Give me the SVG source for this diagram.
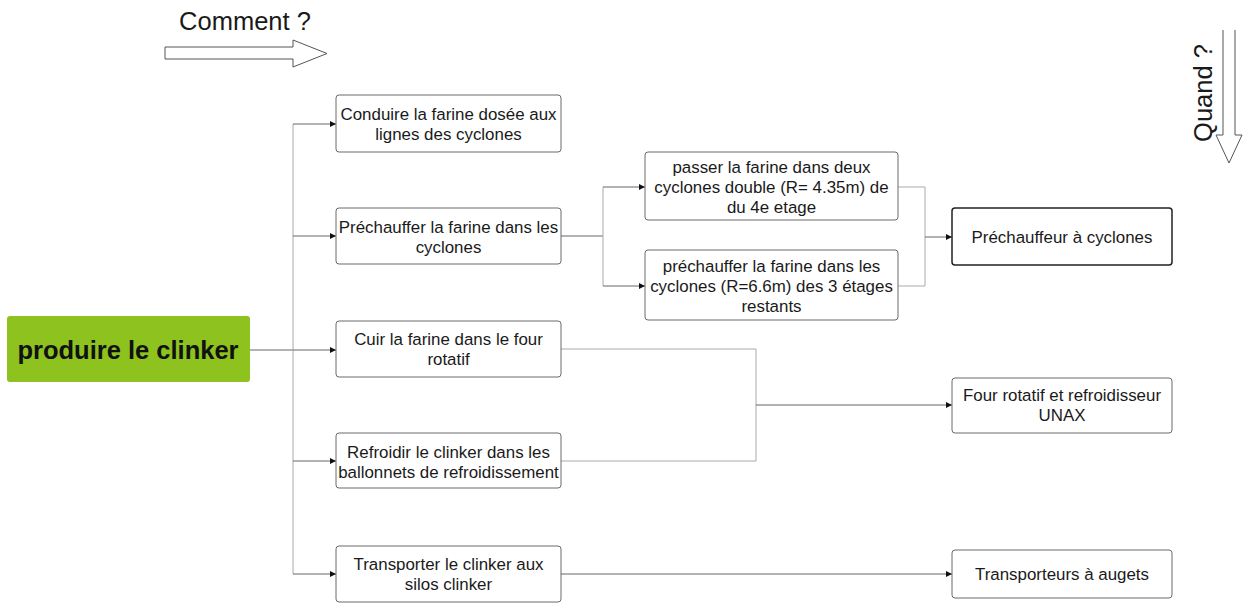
<svg xmlns="http://www.w3.org/2000/svg" width="1244" height="603" viewBox="0 0 1244 603">
  <style>
    .box { fill: #ffffff; stroke: #6b6b6b; stroke-width: 1; }
    .box-strong { fill: #ffffff; stroke: #222222; stroke-width: 1.5; }
    .t { font-family: "Liberation Sans", Arial, sans-serif; font-size: 16.9px; fill: #1a1a1a; text-anchor: middle; }
    .lbl { font-family: "Liberation Sans", Arial, sans-serif; font-size: 25.5px; fill: #1a1a1a; }
    .wire { fill: none; stroke: #aaaaaa; stroke-width: 1; }
    .wire-dark { fill: none; stroke: #666666; stroke-width: 1; }
    .hollow { fill: #ffffff; stroke: #555555; stroke-width: 1; }
  </style>
  <defs>
    <marker id="tip" viewBox="0 0 6 6" refX="6" refY="3" markerWidth="6" markerHeight="6" markerUnits="userSpaceOnUse" orient="auto">
      <path d="M0,0 L6,3 L0,6 z" fill="#111111"/>
    </marker>
  </defs>

  <rect width="1244" height="603" fill="#ffffff"/>

  <!-- direction hints -->
  <g id="hint-comment">
    <text class="lbl" x="245" y="30" text-anchor="middle">Comment ?</text>
    <path class="hollow" d="M165,47 L293,47 L293,40 L327,53.5 L293,67 L293,59 L165,59 Z"/>
  </g>
  <g id="hint-quand">
    <text class="lbl" transform="translate(1212,93) rotate(-90)" text-anchor="middle">Quand ?</text>
    <path class="hollow" d="M1223,30 L1223,135 L1216,135 L1229,163 L1242,135 L1235,135 L1235,30"/>
  </g>

  <!-- connectors -->
  <g id="connectors">
    <path class="wire-dark" d="M250,350 L293,350"/>
    <path class="wire" d="M293,124 L293,574"/>
    <path class="wire-dark" d="M293,124 L336,124" marker-end="url(#tip)"/>
    <path class="wire-dark" d="M293,236 L336,236" marker-end="url(#tip)"/>
    <path class="wire-dark" d="M293,350 L336,350" marker-end="url(#tip)"/>
    <path class="wire-dark" d="M293,461 L336,461" marker-end="url(#tip)"/>
    <path class="wire-dark" d="M293,574 L336,574" marker-end="url(#tip)"/>

    <path class="wire-dark" d="M561,236 L603,236"/>
    <path class="wire" d="M603,187 L603,286"/>
    <path class="wire-dark" d="M603,187 L645,187" marker-end="url(#tip)"/>
    <path class="wire-dark" d="M603,286 L645,286" marker-end="url(#tip)"/>

    <path class="wire" d="M898,187 L925,187 L925,286 L898,286"/>
    <path class="wire-dark" d="M925,237 L952,237" marker-end="url(#tip)"/>

    <path class="wire" d="M561,349 L756,349 L756,461 L561,461"/>
    <path class="wire-dark" d="M756,405 L952,405" marker-end="url(#tip)"/>

    <path class="wire-dark" d="M561,574 L952,574" marker-end="url(#tip)"/>
  </g>

  <!-- root -->
  <g id="root">
    <rect x="7" y="316" width="243" height="66" rx="3" fill="#8dc21f"/>
    <text x="128" y="359" font-family="Liberation Sans, Arial, sans-serif" font-size="25.5" font-weight="bold" fill="#111111" text-anchor="middle">produire le clinker</text>
  </g>

  <!-- functions -->
  <g id="n-conduire">
    <rect class="box" x="336" y="95" width="225" height="57" rx="3"/>
    <text class="t" x="448.5" y="120">Conduire la farine dosée aux</text>
    <text class="t" x="448.5" y="140">lignes des cyclones</text>
  </g>
  <g id="n-prechauffer">
    <rect class="box" x="336" y="208" width="225" height="56" rx="3"/>
    <text class="t" x="448.5" y="233">Préchauffer la farine dans les</text>
    <text class="t" x="448.5" y="253">cyclones</text>
  </g>
  <g id="n-cuire">
    <rect class="box" x="336" y="321" width="225" height="56" rx="3"/>
    <text class="t" x="448.5" y="345">Cuir la farine dans le four</text>
    <text class="t" x="448.5" y="365">rotatif</text>
  </g>
  <g id="n-refroidir">
    <rect class="box" x="336" y="433" width="225" height="55" rx="3"/>
    <text class="t" x="448.5" y="458">Refroidir le clinker dans les</text>
    <text class="t" x="448.5" y="478">ballonnets de refroidissement</text>
  </g>
  <g id="n-transporter">
    <rect class="box" x="336" y="546" width="225" height="56" rx="3"/>
    <text class="t" x="448.5" y="570">Transporter le clinker aux</text>
    <text class="t" x="448.5" y="590">silos clinker</text>
  </g>

  <!-- sub-functions -->
  <g id="n-passer">
    <rect class="box" x="645" y="152" width="253" height="68" rx="3"/>
    <text class="t" x="771.5" y="173">passer la farine dans deux</text>
    <text class="t" x="771.5" y="193">cyclones double (R= 4.35m) de</text>
    <text class="t" x="771.5" y="213">du 4e etage</text>
  </g>
  <g id="n-prechauffer3">
    <rect class="box" x="645" y="250" width="253" height="70" rx="3"/>
    <text class="t" x="771.5" y="272">préchauffer la farine dans les</text>
    <text class="t" x="771.5" y="292">cyclones (R=6.6m) des 3 étages</text>
    <text class="t" x="771.5" y="312">restants</text>
  </g>

  <!-- equipment -->
  <g id="n-prechauffeur">
    <rect class="box-strong" x="952" y="208" width="220" height="57" rx="3"/>
    <text class="t" x="1062" y="243">Préchauffeur à cyclones</text>
  </g>
  <g id="n-four">
    <rect class="box" x="952" y="378" width="220" height="55" rx="3"/>
    <text class="t" x="1062" y="401">Four rotatif et refroidisseur</text>
    <text class="t" x="1062" y="421">UNAX</text>
  </g>
  <g id="n-augets">
    <rect class="box" x="952" y="550" width="220" height="48" rx="3"/>
    <text class="t" x="1062" y="580">Transporteurs à augets</text>
  </g>
</svg>
